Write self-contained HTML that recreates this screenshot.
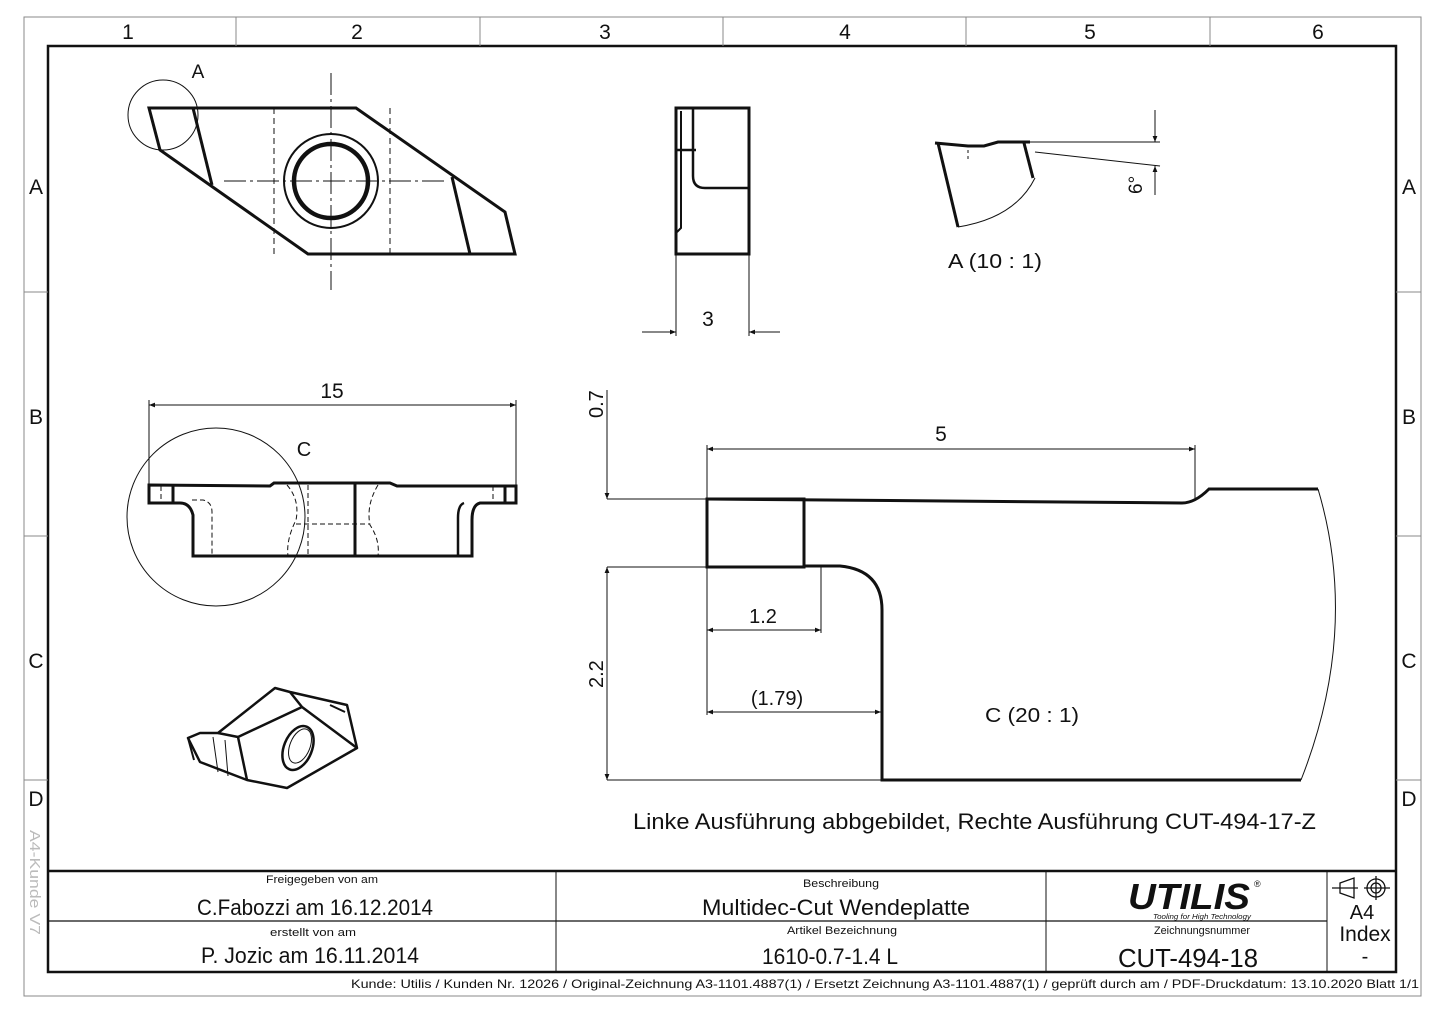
<!DOCTYPE html>
<html><head><meta charset="utf-8"><style>
html,body{margin:0;padding:0;background:#fff}
svg{display:block}
text{font-family:"Liberation Sans",sans-serif;fill:#111}
</style></head><body>
<svg width="1445" height="1022" viewBox="0 0 1445 1022" xmlns="http://www.w3.org/2000/svg">
<defs>
<marker id="ar" viewBox="0 0 10 10" refX="10" refY="5" markerWidth="9" markerHeight="6" orient="auto-start-reverse" markerUnits="userSpaceOnUse"><path d="M0,1 L10,5 L0,9 z" fill="#111"/></marker>
</defs>
<!-- frames -->
<rect x="24" y="17" width="1397" height="979" fill="none" stroke="#888" stroke-width="1"/>
<rect x="48" y="46" width="1348" height="926" fill="none" stroke="#111" stroke-width="2.5"/>
<g stroke="#888" stroke-width="1">
<line x1="236" y1="17" x2="236" y2="46"/><line x1="480" y1="17" x2="480" y2="46"/><line x1="723" y1="17" x2="723" y2="46"/><line x1="966" y1="17" x2="966" y2="46"/><line x1="1210" y1="17" x2="1210" y2="46"/>
<line x1="24" y1="292" x2="48" y2="292"/><line x1="24" y1="536" x2="48" y2="536"/><line x1="24" y1="780" x2="48" y2="780"/>
<line x1="1396" y1="292" x2="1421" y2="292"/><line x1="1396" y1="536" x2="1421" y2="536"/><line x1="1396" y1="780" x2="1421" y2="780"/>
</g>
<g font-size="21" text-anchor="middle">
<text x="128" y="39">1</text><text x="357" y="39">2</text><text x="605" y="39">3</text><text x="845" y="39">4</text><text x="1090" y="39">5</text><text x="1318" y="39">6</text>
<text x="36" y="194">A</text><text x="36" y="424">B</text><text x="36" y="668">C</text><text x="36" y="806">D</text>
<text x="1409" y="194">A</text><text x="1409" y="424">B</text><text x="1409" y="668">C</text><text x="1409" y="806">D</text>
</g>
<text transform="translate(30,830) rotate(90)" font-size="15" fill="#bbb" style="fill:#bbb" textLength="105" lengthAdjust="spacingAndGlyphs">A4-Kunde V7</text>

<!-- top view -->
<g fill="none" stroke="#111">
<path d="M149,108 L356,108 L505,212 L515,254 L308,254 L160,150 Z" stroke-width="3"/>
<line x1="193" y1="108" x2="212" y2="185" stroke-width="3"/>
<line x1="452" y1="177" x2="470" y2="254" stroke-width="3"/>
<circle cx="331" cy="181" r="47" stroke-width="2"/>
<circle cx="331" cy="181" r="37" stroke-width="4.5"/>
<g stroke-width="1" stroke-dasharray="6,4"><line x1="274" y1="108" x2="274" y2="254"/><line x1="390" y1="108" x2="390" y2="254"/></g>
<g stroke-width="1" stroke-dasharray="22,4,3,4"><line x1="224" y1="181" x2="445" y2="181"/><line x1="331" y1="73" x2="331" y2="290"/></g>
<circle cx="163" cy="115" r="35" stroke-width="1"/>
</g>
<text x="198" y="78" font-size="19" text-anchor="middle">A</text>

<!-- side view -->
<g fill="none" stroke="#111">
<rect x="676" y="108" width="73" height="146" stroke-width="3"/>
<path d="M681,111 L681,228 L677,232" stroke-width="2"/>
<line x1="676" y1="150" x2="696" y2="150" stroke-width="2.5"/>
<path d="M693,109 L693,176 Q693,188 705,188 L749,188" stroke-width="2.5"/>
<g stroke-width="1"><line x1="676" y1="254" x2="676" y2="336"/><line x1="749" y1="254" x2="749" y2="336"/>
<line x1="642" y1="332" x2="676" y2="332" marker-end="url(#ar)"/><line x1="780" y1="332" x2="749" y2="332" marker-end="url(#ar)"/></g>
</g>
<text x="708" y="326" font-size="21" text-anchor="middle">3</text>

<!-- detail A -->
<g fill="none" stroke="#111">
<path d="M935,143 L968,146 L984,146 L998,142 L1030,142" stroke-width="3"/>
<line x1="938" y1="143" x2="958" y2="227" stroke-width="3"/>
<line x1="1024" y1="143" x2="1033" y2="178" stroke-width="3"/>
<path d="M958,227 Q1015,218 1035,178" stroke-width="1"/>
<g stroke-width="1">
<line x1="1030" y1="142" x2="1160" y2="142"/>
<line x1="1035" y1="152" x2="1160" y2="166"/>
<line x1="1155" y1="110" x2="1155" y2="142" marker-end="url(#ar)"/>
<line x1="1155" y1="195" x2="1155" y2="166" marker-end="url(#ar)"/>
<line x1="968" y1="150" x2="968" y2="160" stroke-dasharray="3,3"/>
</g>
</g>
<text transform="translate(1142,194) rotate(-90)" font-size="19">6°</text>
<text x="948" y="268" font-size="20" textLength="94" lengthAdjust="spacingAndGlyphs">A (10 : 1)</text>

<!-- section view -->
<g fill="none" stroke="#111">
<path d="M149,485 L270,486 L274,483 L390,483 L397,486 L516,486 L516,503 L505,503 L480,503 Q472,505 472,520 L472,556 L193,556 L193,515 Q190,503 180,503 L149,503 Z" stroke-width="3"/>
<line x1="173" y1="485" x2="173" y2="503" stroke-width="3"/>
<line x1="505" y1="486" x2="505" y2="503" stroke-width="3"/>
<line x1="355" y1="483" x2="355" y2="556" stroke-width="3"/>
<path d="M464,503 Q458,505 458,518 L458,556" stroke-width="2.5"/>
<g stroke-width="1" stroke-dasharray="5,3">
<line x1="161" y1="486" x2="161" y2="503"/><line x1="493" y1="486" x2="493" y2="503"/>
<path d="M192,500 L203,500 Q212,502 212,512 L212,556"/>
<path d="M287,485 Q300,500 296,520 Q286,540 288,556"/>
<path d="M378,485 Q366,505 370,525 Q380,540 378,556"/>
<line x1="308" y1="485" x2="308" y2="556"/>
<line x1="296" y1="524" x2="370" y2="524"/>
</g>
<g stroke-width="1"><line x1="149" y1="400" x2="149" y2="485"/><line x1="516" y1="400" x2="516" y2="485"/>
<line x1="332" y1="405" x2="149" y2="405" marker-end="url(#ar)"/><line x1="332" y1="405" x2="516" y2="405" marker-end="url(#ar)"/></g>
<circle cx="216" cy="517" r="89" stroke-width="1"/>
</g>
<text x="332" y="398" font-size="21" text-anchor="middle">15</text>
<text x="304" y="456" font-size="20" text-anchor="middle">C</text>

<!-- isometric -->
<g fill="none" stroke="#111" stroke-width="2.5" stroke-linejoin="round">
<path d="M188,738 L200,733 L218,733 L275,688 L290,692 L347,705 L357,748 L287,788 L247,780 L200,762 Z"/>
<path d="M218,733 L238,737 L247,780"/>
<path d="M238,737 L302,707 L357,748 M302,707 L290,692"/>
<path d="M188,738 L194,760" stroke-width="2"/>
<path d="M330,705 L345,712" stroke-width="2"/>
<ellipse cx="298" cy="748" rx="14" ry="23" transform="rotate(22 298 748)" stroke-width="2.5"/>
<ellipse cx="300" cy="746" rx="10" ry="18" transform="rotate(22 300 746)" stroke-width="1"/>
<g stroke-width="1"><line x1="213" y1="737" x2="218" y2="772"/><line x1="225" y1="740" x2="228" y2="776"/></g>
</g>

<!-- detail C -->
<g fill="none" stroke="#111">
<path d="M707,499 L1182,503 Q1195,503 1209,489 L1318,489" stroke-width="3"/>
<rect x="707" y="499" width="97" height="68" stroke-width="3"/>
<path d="M804,566 L840,566 Q882,570 882,610 L882,780 L1301,780" stroke-width="3"/>
<path d="M1318,489 Q1360,630 1301,780" stroke-width="1"/>
<g stroke-width="1">
<line x1="607" y1="499" x2="707" y2="499"/><line x1="607" y1="567" x2="707" y2="567"/><line x1="607" y1="780" x2="882" y2="780"/>
<line x1="607" y1="390" x2="607" y2="499" marker-end="url(#ar)"/>
<line x1="607" y1="673" x2="607" y2="567" marker-end="url(#ar)"/>
<line x1="607" y1="673" x2="607" y2="780" marker-end="url(#ar)"/>
<line x1="707" y1="445" x2="707" y2="715"/><line x1="1195" y1="445" x2="1195" y2="500"/>
<line x1="950" y1="449" x2="707" y2="449" marker-end="url(#ar)"/><line x1="950" y1="449" x2="1195" y2="449" marker-end="url(#ar)"/>
<line x1="821" y1="567" x2="821" y2="633"/>
<line x1="764" y1="630" x2="707" y2="630" marker-end="url(#ar)"/><line x1="764" y1="630" x2="821" y2="630" marker-end="url(#ar)"/>
<line x1="790" y1="712" x2="707" y2="712" marker-end="url(#ar)"/><line x1="790" y1="712" x2="881" y2="712" marker-end="url(#ar)"/>
</g>
</g>
<text transform="translate(603,418) rotate(-90)" font-size="20">0.7</text>
<text transform="translate(603,688) rotate(-90)" font-size="20">2.2</text>
<text x="941" y="441" font-size="21" text-anchor="middle">5</text>
<text x="763" y="623" font-size="20" text-anchor="middle">1.2</text>
<text x="777" y="705" font-size="20" text-anchor="middle">(1.79)</text>
<text x="985" y="722" font-size="20" textLength="94" lengthAdjust="spacingAndGlyphs">C (20 : 1)</text>

<text x="633" y="829" font-size="22" textLength="683" lengthAdjust="spacingAndGlyphs">Linke Ausführung abbgebildet, Rechte Ausführung CUT-494-17-Z</text>

<!-- title block -->
<g stroke="#111" fill="none">
<line x1="48" y1="871" x2="1396" y2="871" stroke-width="2.5"/>
<line x1="48" y1="921" x2="1327" y2="921" stroke-width="1.2"/>
<line x1="556" y1="871" x2="556" y2="972" stroke-width="1"/>
<line x1="1046" y1="871" x2="1046" y2="972" stroke-width="1"/>
<line x1="1327" y1="871" x2="1327" y2="972" stroke-width="1"/>
</g>
<g text-anchor="middle">
<text x="322" y="883" font-size="11" textLength="112" lengthAdjust="spacingAndGlyphs">Freigegeben von am</text>
<text x="315" y="915" font-size="22" textLength="236" lengthAdjust="spacingAndGlyphs">C.Fabozzi am 16.12.2014</text>
<text x="313" y="936" font-size="11" textLength="86" lengthAdjust="spacingAndGlyphs">erstellt von am</text>
<text x="310" y="963" font-size="22" textLength="218" lengthAdjust="spacingAndGlyphs">P. Jozic am 16.11.2014</text>
<text x="841" y="887" font-size="11" textLength="76" lengthAdjust="spacingAndGlyphs">Beschreibung</text>
<text x="836" y="915" font-size="22" textLength="268" lengthAdjust="spacingAndGlyphs">Multidec-Cut Wendeplatte</text>
<text x="842" y="934" font-size="11" textLength="110" lengthAdjust="spacingAndGlyphs">Artikel Bezeichnung</text>
<text x="830" y="964" font-size="22" textLength="136" lengthAdjust="spacingAndGlyphs">1610-0.7-1.4 L</text>
<text x="1202" y="934" font-size="11" textLength="96" lengthAdjust="spacingAndGlyphs">Zeichnungsnummer</text>
<text x="1188" y="967" font-size="26" textLength="140" lengthAdjust="spacingAndGlyphs">CUT-494-18</text>
<text x="1362" y="919" font-size="20">A4</text>
<text x="1365" y="941" font-size="21">Index</text>
<text x="1365" y="963" font-size="20">-</text>
</g>
<text x="1128" y="909" font-size="36" font-weight="bold" font-style="italic" textLength="122" lengthAdjust="spacingAndGlyphs">UTILIS</text>
<text x="1254" y="887" font-size="9">®</text>
<text x="1153" y="919" font-size="7" font-style="italic" textLength="98" lengthAdjust="spacingAndGlyphs">Tooling for High Technology</text>
<g fill="none" stroke="#111" stroke-width="1.3">
<path d="M1340,883 L1354,878 L1354,898 L1340,893 Z"/>
<line x1="1332" y1="888" x2="1358" y2="888"/>
<circle cx="1376" cy="888" r="9"/><circle cx="1376" cy="888" r="5"/>
<line x1="1376" y1="876" x2="1376" y2="900"/><line x1="1364" y1="888" x2="1390" y2="888"/>
</g>
<text x="1419" y="988" font-size="12" text-anchor="end" textLength="1068" lengthAdjust="spacingAndGlyphs">Kunde: Utilis / Kunden Nr. 12026 /   Original-Zeichnung A3-1101.4887(1)     /     Ersetzt Zeichnung A3-1101.4887(1) / geprüft durch  am  / PDF-Druckdatum: 13.10.2020  Blatt 1/1</text>
</svg>
</body></html>
